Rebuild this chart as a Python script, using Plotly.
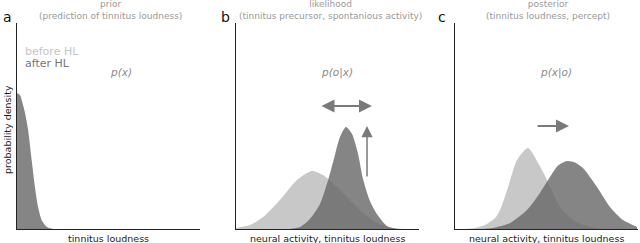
import plotly.graph_objects as go

# ---- data (x: 0-100 activity, y: 0-100 density) ----
prior_after_x = [0, 1.6, 3.3, 4.4, 6.0, 8.2, 9.8, 11.5, 13.7, 16.4, 19.7]
prior_after_y = [66.0, 65.0, 60.2, 56.3, 48.5, 32.0, 20.4, 10.7, 3.9, 1.0, 0]

lik_before_x = [0, 7.7, 14.8, 24.0, 33.3, 41.5, 47.5, 54.1, 60.7, 69.4, 77.0, 85.2, 92.3]
lik_before_y = [0.5, 1.9, 5.8, 14.1, 23.8, 28.2, 26.2, 21.4, 15.5, 7.8, 2.9, 0.5, 0]

lik_after_x = [29.0, 35.0, 40.4, 45.9, 49.7, 53.5, 56.8, 60.1, 63.4, 66.7, 69.4, 73.2, 77.0, 82.5, 88.5]
lik_after_y = [0, 1.0, 4.9, 12.1, 21.8, 34.0, 44.7, 49.5, 46.1, 36.4, 24.3, 13.6, 7.3, 1.5, 0]

post_before_x = [5.5, 10.9, 16.4, 21.9, 24.6, 29.0, 33.9, 39.9, 45.4, 50.3, 57.4, 64.5, 73.8, 82.0]
post_before_y = [0, 0.5, 1.9, 5.3, 9.2, 20.4, 33.5, 39.3, 32.0, 23.8, 10.7, 4.4, 1.0, 0]

post_after_x = [13.7, 20.8, 30.1, 39.3, 46.4, 51.9, 56.3, 61.2, 65.6, 69.9, 77.6, 84.7, 91.8, 99.5]
post_after_y = [0, 0.5, 2.9, 9.2, 17.5, 25.2, 30.8, 33.0, 32.3, 29.6, 20.4, 10.7, 4.4, 1.0]

panel_letters = ["a", "b", "c"]
panel_titles = ["prior<br>(prediction of tinnitus loudness)",
                "likelihood<br>(tinnitus precursor, spontanious activity)",
                "posterior<br>(tinnitus loudness, percept)"]
dist_labels = ["p(x)", "p(o|x)", "p(x|o)"]
x_labels = ["tinnitus loudness", "neural activity, tinnitus loudness",
            "neural activity, tinnitus loudness"]
y_label = "probability density"
legend_labels = ["before HL", "after HL"]

# arrows (data units)
lik_shift_arrow = dict(x0=45.9, x1=74.3, y=59.7)
lik_up_arrow = dict(x=71.6, y0=24.8, y1=50.0)
post_shift_arrow = dict(x0=44.3, x1=62.3, y=50.0)

# ---- styling ----
W, H = 640, 243
LIGHT = "rgb(200,200,200)"
DARK = "rgba(102,102,102,0.8)"
ARROW = "#7a7a7a"
FONT = "DejaVu Sans"

domains = [(17 / W, 200 / W), (236 / W, 419 / W), (455 / W, 638 / W)]
ydom = ((H - 229) / H, (H - 23) / H)

fig = go.Figure()

def area(x, y, color, ax):
    fig.add_trace(go.Scatter(x=x, y=y, mode="lines", line=dict(width=0, shape="spline", smoothing=0.7),
                             fill="tozeroy", fillcolor=color, xaxis="x" + ax, yaxis="y" + ax,
                             hoverinfo="skip", showlegend=False))

area(prior_after_x, prior_after_y, DARK, "")
area(lik_before_x, lik_before_y, LIGHT, "2")
area(lik_after_x, lik_after_y, DARK, "2")
area(post_before_x, post_before_y, LIGHT, "3")
area(post_after_x, post_after_y, DARK, "3")

axis_common = dict(range=[0, 100], showgrid=False, zeroline=False, showticklabels=False,
                   ticks="", showline=True, linecolor="#222", linewidth=1)
layout = dict(width=W, height=H, margin=dict(l=0, r=0, t=0, b=0),
              paper_bgcolor="white", plot_bgcolor="white", showlegend=False,
              font=dict(family=FONT))
for i, suf in enumerate(["", "2", "3"]):
    layout["xaxis" + suf] = dict(axis_common, domain=domains[i], anchor="y" + suf)
    layout["yaxis" + suf] = dict(axis_common, domain=ydom, anchor="x" + suf)
fig.update_layout(**layout)

ann = []
centers = [(17 + 200) / 2 / W, (236 + 419) / 2 / W, (455 + 638) / 2 / W]
title_cx = [110 / W, 330 / W, 548 / W]
letter_x = [1 / W, 219 / W, 436 / W]
for i in range(3):
    ann.append(dict(x=title_cx[i], y=(H - 10) / H, xref="paper", yref="paper", xanchor="center", yanchor="middle",
                    text=panel_titles[i], showarrow=False, font=dict(size=9, color="#999", family=FONT)))
    ann.append(dict(x=letter_x[i], y=(H - 17) / H, xref="paper", yref="paper", xanchor="left", yanchor="middle",
                    text=panel_letters[i], showarrow=False, font=dict(size=14, color="#111", family=FONT)))
    ann.append(dict(x=centers[i], y=(H - 238) / H, xref="paper", yref="paper", xanchor="center", yanchor="middle",
                    text=x_labels[i], showarrow=False, font=dict(size=9.5, color="#222", family=FONT)))
    suf = "" if i == 0 else str(i + 1)
    ann.append(dict(x=[57, 55, 55][i], y=76, xref="x" + suf, yref="y" + suf, xanchor="center", yanchor="middle",
                    text="<i>" + dist_labels[i] + "</i>", showarrow=False,
                    font=dict(size=10.5, color="#8a8a8a", family=FONT)))

ann.append(dict(x=3.5, y=86, xref="x", yref="y", xanchor="left", yanchor="middle", text=legend_labels[0],
                showarrow=False, font=dict(size=11, color="#c4c4c4", family=FONT)))
ann.append(dict(x=3.5, y=80.5, xref="x", yref="y", xanchor="left", yanchor="middle", text=legend_labels[1],
                showarrow=False, font=dict(size=11, color="#777", family=FONT)))
ann.append(dict(x=7 / W, y=(H - 130) / H, xref="paper", yref="paper", xanchor="center", yanchor="middle",
                text=y_label, textangle=-90, showarrow=False, font=dict(size=9.5, color="#222", family=FONT)))

def arrow(x, y, ax, ay, suf):
    return dict(x=x, y=y, ax=ax, ay=ay, xref="x" + suf, yref="y" + suf, axref="x" + suf, ayref="y" + suf,
                showarrow=True, arrowhead=2, arrowsize=1.3, arrowwidth=2, arrowcolor=ARROW, text="")

a = lik_shift_arrow
ann.append(dict(arrow(a["x1"], a["y"], a["x0"], a["y"], "2"), arrowside="end+start", startarrowhead=2,
                startarrowsize=1.3))
u = lik_up_arrow
ann.append(dict(arrow(u["x"], u["y1"], u["x"], u["y0"], "2"), arrowwidth=1.5, arrowsize=1.5))
p = post_shift_arrow
ann.append(arrow(p["x1"], p["y"], p["x0"], p["y"], "3"))

fig.update_layout(annotations=ann)
fig.write_html("out.html", config={"displayModeBar": False},
               post_script="document.body.style.margin='0';document.body.style.overflow='hidden';")
